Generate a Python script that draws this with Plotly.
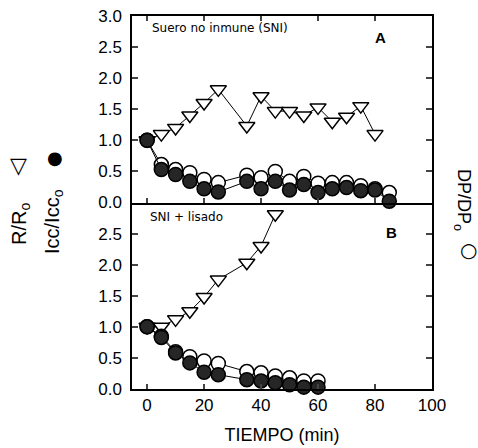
import plotly.graph_objects as go

# Panel A (Suero no inmune)
tA_tri = [0, 5, 10, 15, 20, 25, 35, 40, 45, 50, 55, 60, 65, 70, 75, 80]
rA = [1.0, 1.1, 1.2, 1.4, 1.6, 1.82, 1.23, 1.71, 1.47, 1.47, 1.4, 1.53, 1.3, 1.38, 1.55, 1.1]
tA_circ = [0, 5, 10, 15, 20, 25, 35, 40, 45, 50, 55, 60, 65, 70, 75, 80, 85]
dpA = [1.0, 0.61, 0.53, 0.48, 0.37, 0.32, 0.44, 0.40, 0.50, 0.34, 0.42, 0.31, 0.32, 0.32, 0.27, 0.22, 0.16]
iccA = [1.0, 0.53, 0.45, 0.34, 0.22, 0.17, 0.34, 0.22, 0.34, 0.20, 0.29, 0.16, 0.22, 0.24, 0.19, 0.20, 0.02]

# Panel B (SNI + lisado)
tB_tri = [0, 5, 10, 15, 20, 25, 35, 40, 45]
rB = [1.0, 1.0, 1.12, 1.25, 1.48, 1.76, 2.03, 2.3, 2.81]
tB_circ = [0, 5, 10, 15, 20, 25, 35, 40, 45, 50, 55, 60]
dpB = [1.0, 0.85, 0.6, 0.52, 0.45, 0.41, 0.28, 0.26, 0.21, 0.18, 0.13, 0.13]
iccB = [1.0, 0.83, 0.58, 0.42, 0.27, 0.23, 0.15, 0.13, 0.10, 0.07, 0.03, 0.03]

xticks = [0, 20, 40, 60, 80, 100]
yticksA = [0.0, 0.5, 1.0, 1.5, 2.0, 2.5, 3.0]
yticksB = [0.0, 0.5, 1.0, 1.5, 2.0, 2.5]

FONT = "Liberation Sans, Arial, sans-serif"
SMALL = "DejaVu Sans, sans-serif"

fig = go.Figure()
line = dict(color="black", width=1)
open_c = dict(symbol="circle", size=14, color="white", line=dict(color="black", width=1.5))
fill_c = dict(symbol="circle", size=14, color="#262626", line=dict(color="black", width=1.5))
tri = dict(symbol="triangle-down", size=14, color="white", line=dict(color="black", width=1.5))

for xa, ya, tt, rr, tc, dp, icc in [
    ("x2", "y2", tA_tri, rA, tA_circ, dpA, iccA),
    ("x", "y", tB_tri, rB, tB_circ, dpB, iccB),
]:
    fig.add_trace(go.Scatter(x=tt, y=rr, mode="lines+markers", line=line, marker=tri,
                             xaxis=xa, yaxis=ya, cliponaxis=False, showlegend=False))
    fig.add_trace(go.Scatter(x=tc, y=dp, mode="lines+markers", line=line, marker=open_c,
                             xaxis=xa, yaxis=ya, cliponaxis=False, showlegend=False))
    fig.add_trace(go.Scatter(x=tc, y=icc, mode="lines+markers", line=line, marker=fill_c,
                             xaxis=xa, yaxis=ya, cliponaxis=False, showlegend=False))

axfont = dict(family=FONT, size=17, color="black")
common_x = dict(range=[-5.3, 100], tickvals=xticks, ticks="inside", ticklen=5, tickwidth=1.5,
                showline=True, linecolor="black", linewidth=1.5, automargin=False,
                showgrid=False, zeroline=False, tickfont=axfont)
common_y = dict(range=[0, 3], ticks="inside", ticklen=6, tickwidth=1.5, automargin=False,
                showline=True, linecolor="black", linewidth=1.5, mirror="ticks",
                showgrid=False, zeroline=False, tickfont=axfont, tickformat=".1f",
                ticklabelstandoff=5)

fig.update_layout(
    width=478, height=448,
    margin=dict(l=132, r=46, t=16, b=59),
    plot_bgcolor="white", paper_bgcolor="white",
    font=dict(family=FONT, color="black"),
    xaxis=dict(**common_x, anchor="y", mirror=False,
               title=dict(text="TIEMPO (min)", font=dict(size=18), standoff=14)),
    xaxis2=dict(**common_x, anchor="y2", matches="x", showticklabels=False, mirror="ticks"),
    yaxis=dict(**common_y, domain=[0, 0.5], tickvals=yticksB, anchor="x"),
    yaxis2=dict(**common_y, domain=[0.5, 1.0], tickvals=yticksA, anchor="x2"),
)


def px(x):
    return (x - 132) / 300


def py(y):
    return 1 - (y - 16) / 373


ann = [
    dict(text="Suero no inmune (SNI)", x=150, y=28, font=dict(family=SMALL, size=12)),
    dict(text="<b>A</b>", x=373, y=37, font=dict(size=15)),
    dict(text="SNI + lisado", x=148, y=217, font=dict(family=SMALL, size=12)),
    dict(text="<b>B</b>", x=384, y=232, font=dict(size=15)),
]
for a in ann:
    fig.add_annotation(text=a["text"], xref="paper", yref="paper", x=px(a["x"]), y=py(a["y"]),
                       xanchor="left", yanchor="middle", showarrow=False, font=a["font"])

# Axis labels (rotated) with upright symbols
fig.add_annotation(text="R/R<sub>o</sub>", textangle=-90, xref="paper", yref="paper",
                   x=px(20), y=py(224), showarrow=False,
                   font=dict(size=20), xanchor="center", yanchor="middle")
fig.add_annotation(text="▽", xref="paper", yref="paper", x=px(18), y=py(165),
                   showarrow=False, font=dict(family=SMALL, size=22),
                   xanchor="center", yanchor="middle")
fig.add_annotation(text="Icc/Icc<sub>o</sub>", textangle=-90, xref="paper", yref="paper",
                   x=px(53), y=py(222), showarrow=False,
                   font=dict(size=20), xanchor="center", yanchor="middle")
fig.add_annotation(text="●", xref="paper", yref="paper", x=px(55), y=py(157),
                   showarrow=False, font=dict(family=SMALL, size=18),
                   xanchor="center", yanchor="middle")
fig.add_annotation(text="DP/DP<sub>o</sub>", textangle=90, xref="paper", yref="paper",
                   x=px(463), y=py(200), showarrow=False,
                   font=dict(size=18), xanchor="center", yanchor="middle")
fig.add_annotation(text="○", xref="paper", yref="paper", x=px(468), y=py(250),
                   showarrow=False, font=dict(family=SMALL, size=20),
                   xanchor="center", yanchor="middle")

fig.write_html("out.html")
